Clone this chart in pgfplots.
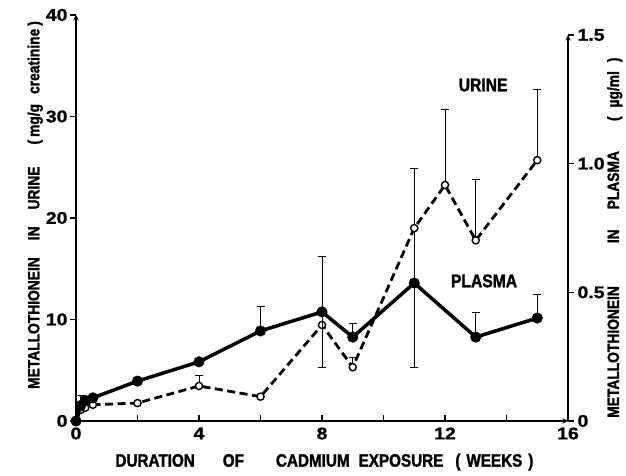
\documentclass[border=0pt]{standalone}
\usepackage{fontspec}
\setmainfont{Liberation Sans}
\newfontfamily\labf[FakeStretch=0.85, FakeBold=1.6]{Liberation Sans}
\newfontfamily\tickf[FakeStretch=1.15, FakeBold=1.0]{Liberation Sans}
\usepackage{pgfplots}
\usepackage{pgfplotstable}
\pgfplotsset{compat=1.18}

\pgfplotstableread{
x y ep em
0 0 0 0
0.15 0.06 0.04 0
0.3 0.08 0 0
0.55 0.09 0 0
2 0.155 0 0
4 0.23 0.01 0
6 0.35 0.095 0
8 0.424 0.215 0.215
9 0.326 0.054 0
11 0.536 0 0.33
13 0.326 0.097 0
15 0.40 0.093 0
}\plasma

\pgfplotstableread{
x y ep em
0 0 0 0
0.15 1.1 0.6 0
0.3 1.3 0 0
0.55 1.6 0 0
2 1.77 0 0
4 3.45 1.0 0
6 2.4 0 0
8 9.46 0 0
9 5.3 1.0 0
11 19.0 5.9 5.4
12 23.25 7.4 0
13 17.8 6.0 0
15 25.7 7.0 0
}\urine

\pgfplotsset{
  base/.style={scale only axis, width=492bp, at={(0,0)}, anchor=south west,
    xmin=0, xmax=16, clip=false,
    axis line style={-, line width=1.4bp, black},
    tick style={line width=1.4bp, black},
    major tick length=6bp,
    ticklabel style={font=\tickf\bfseries\fontsize{17}{17}\selectfont},
  },
  eb/.style={error bars/.cd, y dir=both, y explicit,
    error bar style={line width=1bp, black, solid},
    error mark options={rotate=90, mark size=4bp, line width=1bp, black, solid}},
}

\begin{document}
\begin{tikzpicture}
% x axis
\begin{axis}[base, height=406bp, ymin=0, ymax=40,
  axis x line=bottom, axis y line=none,
  tick align=inside,
  xtick={0,2,...,16}, xticklabels={0,,4,,8,,12,,16},
  xticklabel style={yshift=-3bp},
  xlabel={\labf\bfseries\fontsize{18}{18}\selectfont DURATION\hspace{28bp}OF\hspace{32bp}CADMIUM\hspace{9bp}EXPOSURE\hspace{12bp}(\hspace{6bp}WEEKS\hspace{6bp})},
  xlabel style={at={(axis description cs:0.505,-0.101)}, anchor=center},
]
\end{axis}
% left axis: urine
\begin{axis}[base, height=406bp, ymin=0, ymax=40,
  axis x line=none, axis y line=left,
  tick align=outside,
  ytick={0,10,20,30,40}, yticklabels={0,10,20,30,40},
  yticklabel style={xshift=1bp},
  ylabel={\labf\bfseries\fontsize{16.3}{16.3}\selectfont METALLOTHIONEIN\hspace{17bp}IN\hspace{17bp}URINE\hspace{22bp}(\hspace{3bp}mg/g\hspace{10bp}creatinine\hspace{3bp})},
  ylabel style={at={(axis description cs:-0.083,0.532)}, anchor=center},
]
\addplot[black, line width=2.8bp, dash pattern=on 8bp off 4.5bp,
  mark=*, mark size=3.6bp, mark options={solid, fill=white, line width=1.4bp}, eb]
  table[x=x, y=y, y error plus=ep, y error minus=em] {\urine};
\node[font=\labf\bfseries\fontsize{18.5}{18.5}\selectfont] at (axis cs:13.24,33.1) {URINE};
\node[font=\labf\bfseries\fontsize{18.5}{18.5}\selectfont] at (axis cs:13.27,13.8) {PLASMA};
\end{axis}
% right axis: plasma
\begin{axis}[base, height=386bp, ymin=0, ymax=1.5,
  axis x line=none, axis y line=right,
  tick align=outside,
  ytick={0,0.5,1,1.5}, yticklabels={0,0.5,1.0,1.5},
  ylabel={\labf\bfseries\fontsize{16.3}{16.3}\selectfont METALLOTHIONEIN\hspace{43bp}IN\hspace{20bp}PLASMA\hspace{30bp}(\hspace{9bp}\textmu g/ml\hspace{9bp})},
  ylabel style={at={(axis description cs:1.095,0.475)}, anchor=center},
]
\addplot[black, line width=3.5bp, mark=*, mark size=3.7bp, mark options={solid, fill=black}, eb]
  table[x=x, y=y, y error plus=ep, y error minus=em] {\plasma};
\end{axis}
\pgfresetboundingbox
\path[use as bounding box] (-76bp,-55bp) rectangle (550bp,421bp);
\end{tikzpicture}
\end{document}
